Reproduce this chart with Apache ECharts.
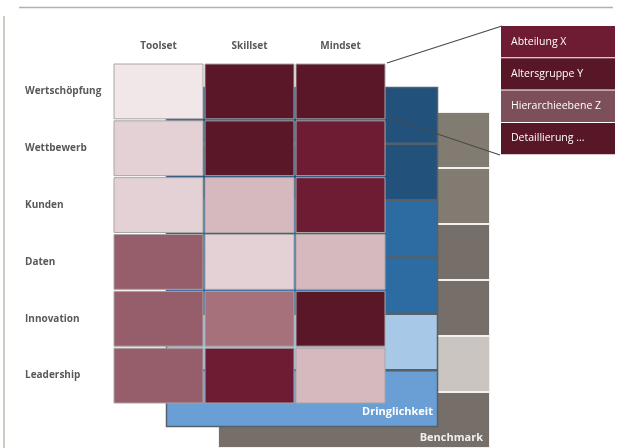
<!DOCTYPE html>
<html>
<head>
<meta charset="utf-8">
<script src="https://cdn.jsdelivr.net/npm/echarts@6/dist/echarts.min.js"></script>
<style>html,body{margin:0;padding:0;background:#fff}#c{width:619px;height:448px}</style>
</head>
<body>
<div id="c"></div>
<script>
// ---- data ----
const columns = ['Toolset', 'Skillset', 'Mindset'];
const dimensions = ['Wertschöpfung', 'Wettbewerb', 'Kunden', 'Daten', 'Innovation', 'Leadership'];
// maturity level per dimension (rows) x column, 1 = light .. 7 = dark
const levelToolset = [1, 2, 2, 5, 5, 5];
const levelSkillset = [7, 7, 3, 2, 4, 6];
const levelMindset = [7, 6, 6, 3, 7, 3];
// urgency level per dimension (1 = low .. 4 = high)
const dringlichkeit = [4, 4, 3, 3, 1, 2];
// benchmark level per dimension
const benchmark = [3, 3, 2, 2, 1, 2];
const filterItems = ['Abteilung X', 'Altersgruppe Y', 'Hierarchieebene Z', 'Detaillierung ...'];

// ---- styles ----
const redPalette = {1:'#f1e6e8', 2:'#e3d1d5', 3:'#d5b9bf', 4:'#a6717b', 5:'#955e6a', 6:'#6e1c33', 7:'#5a1728'};
const bluePalette = {1:'#a7c8e6', 2:'#6a9fd5', 3:'#2d6ca3', 4:'#22527c'};
const grayPalette = {1:'#cac5c1', 2:'#766e69', 3:'#827b72'};
const filterColors = ['#6e1c33', '#581727', '#7c4f5a', '#581727'];

const frontData = [];
[levelToolset, levelSkillset, levelMindset].forEach((arr, ci) => {
  arr.forEach((v, ri) => frontData.push([ci, ri, v]));
});
const blueData = dringlichkeit.map((v, i) => [0, i, v]);
const grayData = benchmark.map((v, i) => [0, i, v]);

function cellRenderer(palette, inset, stroke, lw) {
  return function (params, api) {
    const c = api.coord([api.value(0), api.value(1)]);
    const s = api.size([1, 1]);
    return {
      type: 'rect',
      shape: {x: c[0] - s[0] / 2 + inset, y: c[1] - s[1] / 2 + inset, width: s[0] - 2 * inset, height: s[1] - 2 * inset},
      style: {fill: palette[api.value(2)], stroke: stroke, lineWidth: lw}
    };
  };
}

const labelFont = {fontFamily: 'Open Sans', fontWeight: 'bold', fontSize: 10, color: '#595959'};
const hiddenAxis = {show: false};

const chart = echarts.init(document.getElementById('c'));
chart.setOption({
  animation: false,
  grid: [
    {left: 113, top: 63, width: 273, height: 341},
    {left: 166, top: 87, width: 272, height: 340},
    {left: 218, top: 112, width: 272, height: 340}
  ],
  xAxis: [
    {type: 'category', data: columns, gridIndex: 0, position: 'top',
     axisLine: {show: false}, axisTick: {show: false}, splitLine: {show: false},
     axisLabel: Object.assign({margin: 12}, labelFont)},
    {type: 'category', data: ['Dringlichkeit'], gridIndex: 1, show: false},
    {type: 'category', data: ['Benchmark'], gridIndex: 2, show: false}
  ],
  yAxis: [
    {type: 'category', data: dimensions, gridIndex: 0, inverse: true,
     axisLine: {show: false}, axisTick: {show: false}, splitLine: {show: false},
     axisLabel: Object.assign({margin: 88, align: 'left'}, labelFont)},
    {type: 'category', data: dimensions, gridIndex: 1, inverse: true, show: false},
    {type: 'category', data: dimensions, gridIndex: 2, inverse: true, show: false}
  ],
  series: [
    {type: 'custom', xAxisIndex: 2, yAxisIndex: 2, z: 1, data: grayData,
     renderItem: cellRenderer(grayPalette, 0.5, '#f2f0ee', 1)},
    {type: 'custom', xAxisIndex: 1, yAxisIndex: 1, z: 2, data: blueData,
     renderItem: cellRenderer(bluePalette, 0.5, '#55606a', 1.5)},
    {type: 'custom', xAxisIndex: 0, yAxisIndex: 0, z: 3, data: frontData,
     renderItem: cellRenderer(redPalette, 1, '#a9a4a5', 1)}
  ],
  graphic: [
    {type: 'line', shape: {x1: 19, y1: 7.5, x2: 613, y2: 7.5}, style: {stroke: '#b9b1a2', lineWidth: 1.5}, z: 10},
    {type: 'line', shape: {x1: 4, y1: 16, x2: 4, y2: 448}, style: {stroke: '#bfb9ae', lineWidth: 1.5}, z: 10},
    {type: 'text', right: 619 - 433, top: 406, z: 10,
     style: {text: 'Dringlichkeit', fill: '#ffffff', font: 'bold 11px "Open Sans"', textAlign: 'right'}},
    {type: 'text', right: 619 - 483, top: 432, z: 10,
     style: {text: 'Benchmark', fill: '#f2f0ee', font: 'bold 11px "Open Sans"', textAlign: 'right'}},
    {type: 'line', shape: {x1: 387, y1: 63, x2: 502, y2: 26}, style: {stroke: '#4a4a4a', lineWidth: 1.2}, z: 10},
    {type: 'line', shape: {x1: 387, y1: 117, x2: 500, y2: 155}, style: {stroke: '#4a4a4a', lineWidth: 1.2}, z: 10}
  ].concat(filterItems.map((t, i) => ({
    type: 'group', x: 501, y: 26 + i * 32.3, z: 10,
    children: [
      {type: 'rect', shape: {x: 0, y: 0, width: 114, height: 31.3}, style: {fill: filterColors[i]}},
      {type: 'text', x: 10, y: 15.6, style: {text: t, fill: '#ffffff', font: '10.5px "Open Sans"', textVerticalAlign: 'middle'}}
    ]
  })))
});
</script>
</body>
</html>
